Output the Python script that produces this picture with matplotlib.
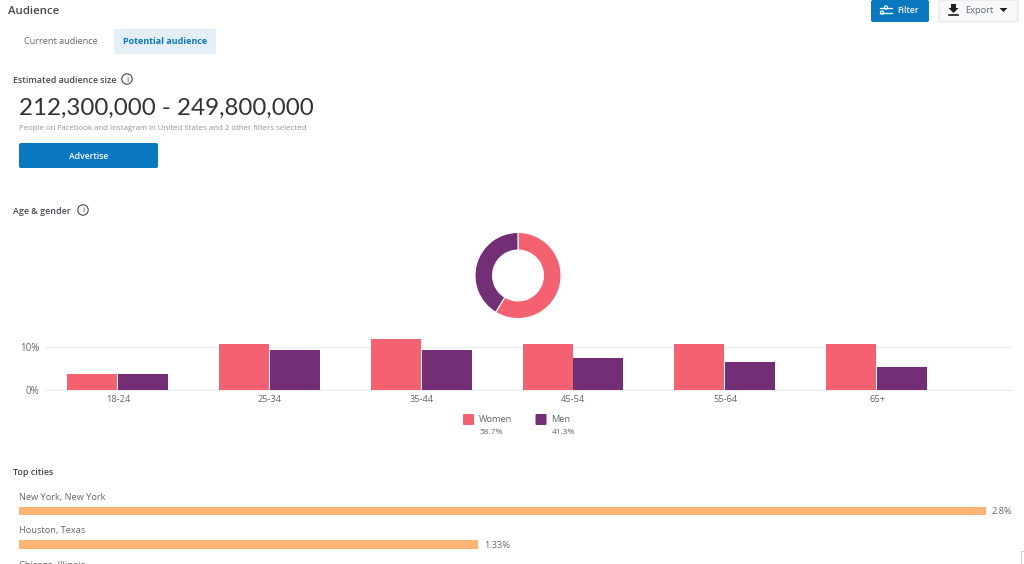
import matplotlib
matplotlib.use("Agg")
import matplotlib.pyplot as plt
from matplotlib.patches import FancyBboxPatch, Circle, Polygon

W, H = 1024, 564

age_groups = ["18-24", "25-34", "35-44", "45-54", "55-64", "65+"]
women = [3.6, 10.8, 11.9, 10.7, 10.7, 10.7]
men = [3.6, 9.4, 9.2, 7.4, 6.5, 5.3]
gender_labels = ["Women", "Men"]
gender_share = [58.7, 41.3]
y_ticks = [0, 10]
y_tick_labels = ["0%", "10%"]
cities = ["New York, New York", "Houston, Texas"]
city_share = [2.8, 1.33]
city_share_labels = ["2.8%", "1.33%"]

PINK = "#F46170"
PURPLE = "#732F75"
ORANGE = "#FDB474"
BLUE = "#0A78BE"
TEXT = "#444950"
GREY = "#606770"

plt.rcParams["font.family"] = ["Open Sans", "DejaVu Sans"]


def px_axes(fig, left, top, right, bottom, **kw):
    # axes placed by pixel box of the screenshot
    return fig.add_axes([left / W, 1 - bottom / H, (right - left) / W, (bottom - top) / H], **kw)


fig = plt.figure(figsize=(W / 100, H / 100), dpi=100, facecolor="white")

# page layer, uses screenshot pixels
ui = px_axes(fig, 0, 0, W, H)
ui.set_xlim(0, W)
ui.set_ylim(H, 0)
ui.axis("off")


def box(x0, y0, x1, y1, color, edge="none", r=2):
    ui.add_patch(FancyBboxPatch((x0 + r, y0 + r), x1 - x0 - 2 * r, y1 - y0 - 2 * r,
                                boxstyle="round,pad=%d,rounding_size=%d" % (r, r),
                                fc=color, ec=edge, lw=0.8))


def label(x, y, s, **kw):
    # va=center sits a bit high with this font
    kw.setdefault("va", "center")
    ui.text(x, y + 1.5, s, **kw)


def info(x, y):
    ui.add_patch(Circle((x, y), 5.2, fc="none", ec=TEXT, lw=0.8))
    label(x, y - 0.5, "i", fontsize=6, color=TEXT, ha="center")


label(8, 9.5, "Audience", fontsize=8.2, fontweight="semibold", color=TEXT)

box(114, 29, 216, 54, "#E3EEF7")
label(24, 40.5, "Current audience", fontsize=6.6, color=GREY)
label(123, 40.5, "Potential audience", fontsize=6.5, fontweight="bold", color=BLUE)

# top right buttons
box(871, 0, 929, 22, BLUE)
for yy, xd in [(7.5, 886), (12.5, 882)]:
    ui.plot([880, 892], [yy, yy], color="white", lw=0.9)
    ui.add_patch(Circle((xd, yy), 1.6, fc=BLUE, ec="white", lw=0.8))
label(897, 9, "Filter", fontsize=6.1, fontweight="semibold", color="white")

box(939, 0, 1018, 22, "#F7F8FA", edge="#E4E6EB")
ui.add_patch(Polygon([(951, 4), (956, 4), (956, 8), (958.5, 8), (953.5, 13), (948.5, 8), (951, 8)], fc="#1C1E21"))
ui.plot([949, 958], [15, 15], color="#1C1E21", lw=1.2)
label(965, 9, "Export", fontsize=6.7, color=GREY)
ui.add_patch(Polygon([(999.5, 8), (1007.5, 8), (1003.5, 12)], fc="#1C1E21"))

label(13, 79, "Estimated audience size", fontsize=6.4, fontweight="semibold", color=TEXT)
info(127, 79)
label(19, 107, "212,300,000 - 249,800,000", fontsize=17.4, family="Lato", color="#333333")
label(19, 126.5, "People on Facebook and Instagram in United States and 2 other filters selected",
      fontsize=5.7, color="#8D949E")
box(19, 143, 158, 168, BLUE)
label(88.5, 155, "Advertise", fontsize=6.2, fontweight="semibold", color="white", ha="center")

label(13, 209.5, "Age & gender", fontsize=6.4, fontweight="semibold", color=TEXT)
info(83, 210)

# donut
donut = px_axes(fig, 474.5, 232, 561.5, 319)
donut.pie(gender_share, colors=[PINK, PURPLE], startangle=90, counterclock=False, radius=1,
          wedgeprops=dict(width=0.41, edgecolor="white", linewidth=0.8))
donut.set_xlim(-1.01, 1.01)
donut.set_ylim(-1.01, 1.01)

# age bars, group spacing is 151.8 px and group 0 sits at x=118
bars = px_axes(fig, 45, 330, 1012, 389.5)
bars.patch.set_alpha(0)
pos = list(range(len(age_groups)))
bw = 0.33
bars.bar([p - bw / 2 - 0.005 for p in pos], women, bw, color=PINK, zorder=3)
bars.bar([p + bw / 2 for p in pos], men, bw, color=PURPLE, zorder=3)
bars.set_xlim((45 - 118) / 151.8, (1012 - 118) / 151.8)
bars.set_ylim(0, 59.5 / 4.25)
bars.set_yticks(y_ticks)
bars.set_yticklabels(y_tick_labels, fontsize=7, color=GREY)
bars.set_xticks(pos)
bars.set_xticklabels(age_groups, fontsize=6.7, color=GREY)
bars.tick_params(axis="y", length=0, pad=4)
bars.tick_params(axis="x", length=0, pad=4)
bars.grid(axis="y", color="#EBEDF0", lw=1, zorder=0)
bars.set_axisbelow(True)
bars.spines[:].set_visible(False)
bars.spines["bottom"].set_visible(True)
bars.spines["bottom"].set_color("#EBEDF0")

# gender legend
for name, share, x in zip(gender_labels, gender_share, [463, 535.5]):
    box(x, 414, x + 11, 425, PINK if name == "Women" else PURPLE, r=1)
    label(x + 16, 418.5, name, fontsize=6.7, color=GREY)
    label(x + 16, 431.5, "%.1f%%" % share, fontsize=6, color=GREY)

label(13, 471, "Top cities", fontsize=6.4, fontweight="semibold", color=TEXT)

# top cities, full width 967 px is the 2.8% bar
rows = [(496, 510), (529.5, 543.5)]
city_ax = px_axes(fig, 19, 500, 1012, H)
city_ax.axis("off")
city_ax.set_xlim(0, 993 / 967 * city_share[0])
city_ax.set_ylim(H - 500, 0)
for name, val, lab, (ty, by) in zip(cities, city_share, city_share_labels, rows):
    city_ax.barh(by + 1 - 500, val, height=8.4, color=ORANGE)
    label(19, ty, name, fontsize=6.7, color=GREY)
    label(19 + val / city_share[0] * 967 + 6, by, lab, fontsize=6.7, color=GREY)
# cut by the bottom of the screenshot, same as the page
label(19, 563.5, "Chicago, Illinois", fontsize=6.7, color=GREY)

# scrap of the corner widget bottom right
ui.plot([1021, 1021, 1024], [564, 551, 551], color="#CED0D4", lw=0.8)

fig.savefig("out.png", dpi=100, facecolor="white")
